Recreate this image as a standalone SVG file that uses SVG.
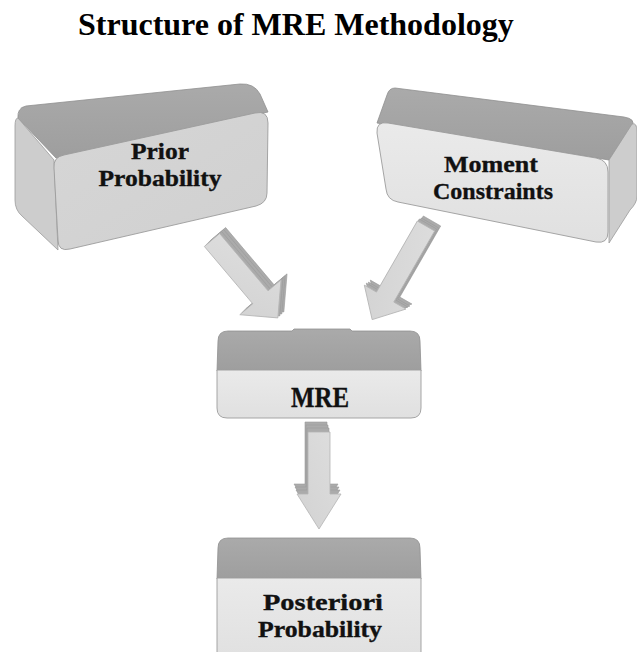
<svg xmlns="http://www.w3.org/2000/svg" xmlns:xlink="http://www.w3.org/1999/xlink" width="637" height="652" viewBox="0 0 637 652">
<style>
.title{font-family:"Liberation Serif","Times New Roman",serif;font-weight:bold;font-size:32px;fill:#000}
.lbl{font-family:"Liberation Serif","Times New Roman",serif;font-weight:bold;font-size:24px;fill:#111;stroke:#111;stroke-width:0.35px;text-anchor:middle}
.big{font-size:29px}
.top{fill:url(#gTop);stroke:#8f8f8f;stroke-width:0.8;stroke-linejoin:round}
.side{fill:#cdcdcd;stroke:#9a9a9a;stroke-width:0.8;stroke-linejoin:round}
.front{stroke:#9c9c9c;stroke-width:0.9;stroke-linejoin:round}
.aside{fill:#ababab;stroke:#9a9a9a;stroke-width:0.6;stroke-linejoin:round}
.afront{fill:url(#gArrow);stroke:#b4b4b4;stroke-width:0.8;stroke-linejoin:round}
</style>
<defs>
<linearGradient id="gTop" x1="0" y1="0" x2="0" y2="1">
<stop offset="0" stop-color="#aaaaaa"/><stop offset="1" stop-color="#9e9e9e"/>
</linearGradient>
<linearGradient id="gFrontP" x1="0" y1="0" x2="1" y2="1">
<stop offset="0" stop-color="#d6d6d6"/><stop offset="1" stop-color="#d0d0d0"/>
</linearGradient>
<linearGradient id="gFrontL" x1="0" y1="0" x2="0" y2="1">
<stop offset="0" stop-color="#eaeaea"/><stop offset="1" stop-color="#e0e0e0"/>
</linearGradient>
<linearGradient id="gArrow" x1="0" y1="0" x2="1" y2="1">
<stop offset="0" stop-color="#dedede"/><stop offset="1" stop-color="#d2d2d2"/>
</linearGradient>
<path id="arrP" d="M0,-10 L75,-10 L75,-27 L102,0 L75,27 L75,10 L0,10 Z" transform="translate(212,240) rotate(49.8)"/>
<path id="arrM" d="M0,-10 L82,-10 L82,-24 L108,0 L82,24 L82,10 L0,10 Z" transform="translate(426,226) rotate(119.9)"/>
<path id="arrD" d="M0,-11 L62,-11 L62,-22 L97,0 L62,22 L62,11 L0,11 Z" transform="translate(319,432) rotate(90)"/>
</defs>
<rect width="637" height="652" fill="#ffffff"/>
<text class="title" x="78" y="35">Structure of MRE Methodology</text>

<g id="node-prior">
<path class="top" d="M26,106 L240,84 Q254,83 260,94 L268,112 L56,158 L18,118 Q17,108 26,106 Z"/>
<path class="side" d="M18,118 L54,160 L58,250 L22,216 Q15,210 15,200 L15,126 Q15,118 18,118 Z"/>
<path class="front" fill="url(#gFrontP)" d="M64,155 L255,113 Q268,110 268,123 L267,193 Q267,203 256,206 L70,249 Q58,252 58,240 L54,168 Q53,157 64,155 Z"/>
<text class="lbl" x="160" y="159" textLength="58" lengthAdjust="spacingAndGlyphs">Prior</text>
<text class="lbl" x="160" y="186" textLength="123" lengthAdjust="spacingAndGlyphs">Probability</text>
</g>

<g id="node-moment">
<path class="top" d="M395,88 L624,117 Q636,119 632,126 L609,160 L377,123 L387,95 Q389,88 395,88 Z"/>
<path class="side" d="M609,160 L632,124 Q637,122 637,132 L637,196 Q637,203 630,210 L609,243 Z"/>
<path class="front" fill="url(#gFrontL)" d="M388,123 L596,158 Q608,160 608,172 L608,232 Q608,244 596,242 L398,202 Q387,200 386,189 L377,133 Q376,121 388,123 Z"/>
<text class="lbl" x="491" y="172" textLength="94" lengthAdjust="spacingAndGlyphs">Moment</text>
<text class="lbl" x="493" y="199" textLength="120" lengthAdjust="spacingAndGlyphs">Constraints</text>
</g>

<g id="node-mre">
<path class="top" d="M228,331 L292,331 L294,329 L350,329 L352,331 L410,331 Q420,331 420,341 L421,371 L217,371 L218,341 Q218,331 228,331 Z"/>
<path class="front" fill="url(#gFrontL)" d="M217,370 L421,370 L421,408 Q421,418 411,418 L227,418 Q217,418 217,408 Z"/>
<text class="lbl big" x="320" y="407" textLength="58" lengthAdjust="spacingAndGlyphs">MRE</text>
</g>

<g id="node-posteriori">
<path class="top" d="M228,538 L410,538 Q420,538 420,548 L421,579 L217,579 L218,548 Q218,538 228,538 Z"/>
<path class="front" fill="url(#gFrontL)" d="M217,578 L421,578 L421,662 L217,662 Z"/>
<text class="lbl" x="323" y="610" textLength="120" lengthAdjust="spacingAndGlyphs">Posteriori</text>
<text class="lbl" x="320" y="637" textLength="124" lengthAdjust="spacingAndGlyphs">Probability</text>
</g>

<g id="connectors">
<use xlink:href="#arrP" class="aside" transform="translate(6,-6)"/>
<use xlink:href="#arrP" class="aside" transform="translate(4,-4)"/>
<use xlink:href="#arrP" class="aside" transform="translate(2,-2)"/>
<use xlink:href="#arrP" class="afront"/>
<use xlink:href="#arrM" class="aside" transform="translate(6,-5)"/>
<use xlink:href="#arrM" class="aside" transform="translate(4,-3)"/>
<use xlink:href="#arrM" class="aside" transform="translate(2,-2)"/>
<use xlink:href="#arrM" class="afront"/>
<use xlink:href="#arrD" class="aside" transform="translate(-3,-10)"/>
<use xlink:href="#arrD" class="aside" transform="translate(-2,-7)"/>
<use xlink:href="#arrD" class="aside" transform="translate(-1,-4)"/>
<use xlink:href="#arrD" class="afront"/>
</g>
</svg>
